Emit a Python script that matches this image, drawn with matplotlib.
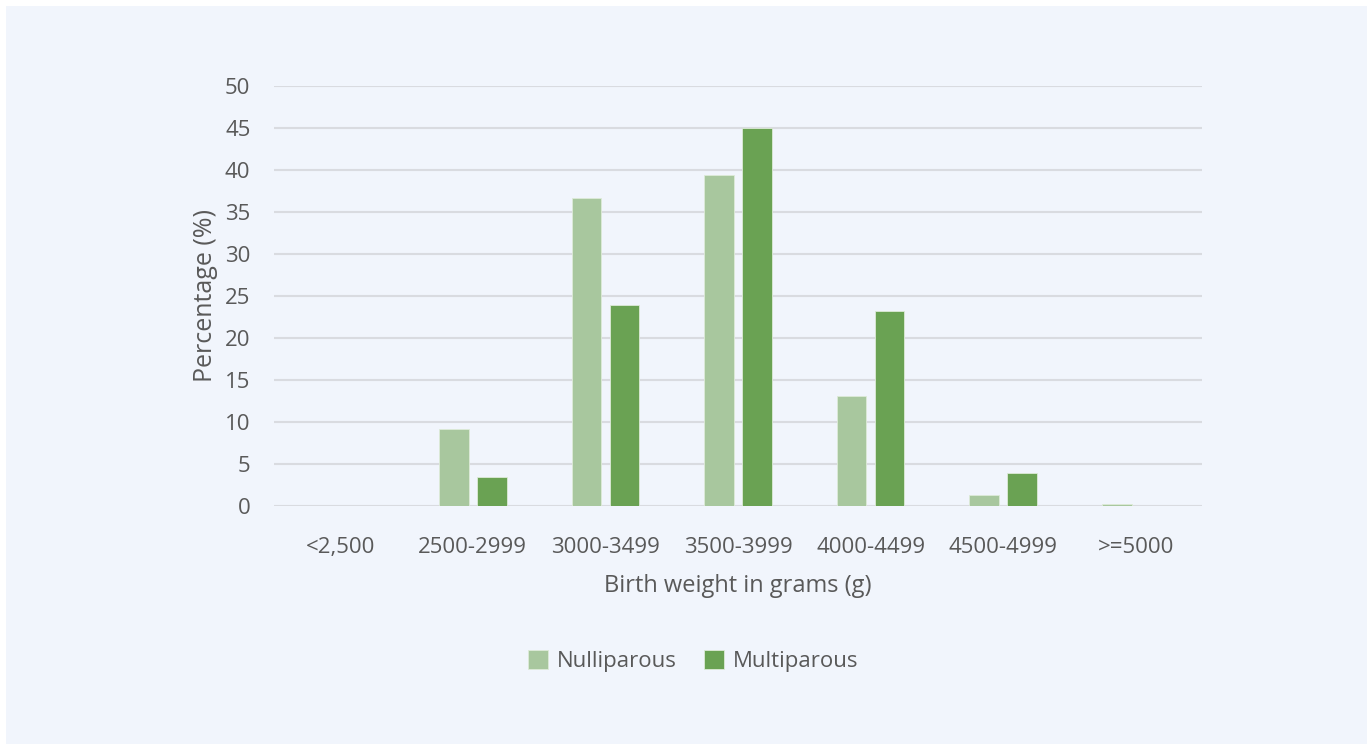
import numpy as np
import matplotlib.pyplot as plt
from matplotlib.patches import Rectangle

categories = ['<2,500', '2500-2999', '3000-3499', '3500-3999',
              '4000-4499', '4500-4999', '>=5000']
nulliparous = [0.0, 9.2, 36.7, 39.4, 13.1, 1.3, 0.25]
multiparous = [0.0, 3.4, 23.9, 45.0, 23.2, 3.9, 0.0]

bg = '#F1F5FC'
text_col = '#595959'
plt.rcParams['font.family'] = ['Open Sans', 'DejaVu Sans']

fig = plt.figure(figsize=(13.67, 7.44), dpi=100, facecolor='white')
fig.patches.append(Rectangle((6 / 1367, 0), 1, 1 - 6 / 744,
                             transform=fig.transFigure, facecolor=bg,
                             edgecolor='none', zorder=-10))

ax = fig.add_axes([274 / 1367, 1 - 506 / 744, 928 / 1367, 420 / 744])
ax.set_facecolor(bg)

x = np.arange(len(categories))
w = 0.223
off = 0.143
ax.bar(x - off, nulliparous, w, color='#A8C79E', edgecolor='#DDEBD8',
       linewidth=0.6, label='Nulliparous', zorder=3)
ax.bar(x + off, multiparous, w, color='#6AA253', edgecolor='#DDEBD8',
       linewidth=0.6, label='Multiparous', zorder=3)

ax.set_xlim(-0.5, len(categories) - 0.5)
ax.set_ylim(0, 50)
ax.set_yticks(range(0, 51, 5))
ax.set_xticks(x)
ax.set_xticklabels(categories)
ax.yaxis.grid(True, color='#D9DBE0', linewidth=1.5, zorder=0)
ax.set_axisbelow(True)
for s in ax.spines.values():
    s.set_visible(False)
ax.tick_params(axis='both', length=0, labelsize=16, labelcolor=text_col)
ax.tick_params(axis='x', pad=22)
ax.tick_params(axis='y', pad=17)

ax.set_ylabel('Percentage (%)', fontsize=18, color=text_col, labelpad=5)
ax.set_xlabel('Birth weight in grams (g)', fontsize=17, color=text_col,
              labelpad=12)

handles, labels = ax.get_legend_handles_labels()
fig.legend(handles, labels, loc='center', ncol=2, frameon=False,
           bbox_to_anchor=(693 / 1367, 1 - 661 / 744), fontsize=16,
           labelcolor=text_col, handlelength=0.9, handleheight=0.9,
           handletextpad=0.4, columnspacing=1.2)

fig.savefig('out.png', dpi=100, facecolor='white')
